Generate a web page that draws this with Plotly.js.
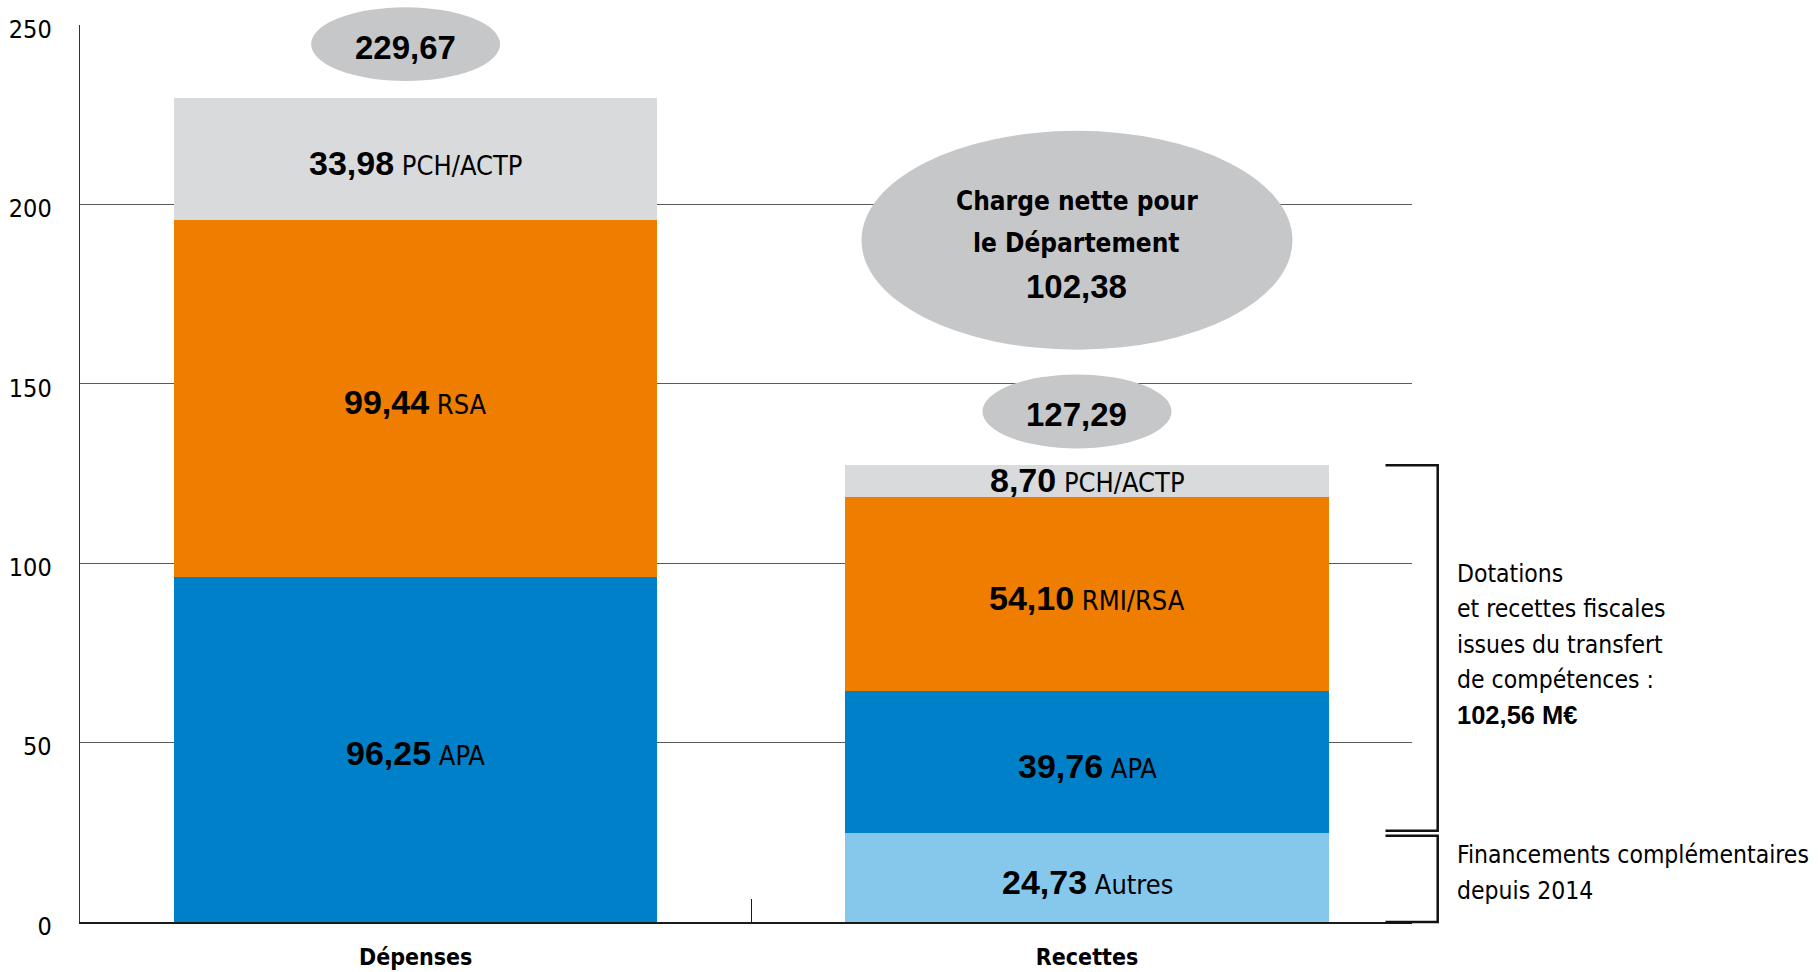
<!DOCTYPE html>
<html><head><meta charset="utf-8">
<script src="https://cdn.plot.ly/plotly-3.0.1.min.js"></script>
<style>html,body{margin:0;padding:0;background:#fff;}</style>
</head><body>
<div id="chart" style="width:1818px;height:972px"></div>
<script>
// ---- data ----
const categories = ['Dépenses', 'Recettes'];
const autres = [0, 24.73];
const apa = [96.25, 39.76];
const rsa = [99.44, 54.10];
const pch = [33.98, 8.70];
const autresLabels = ['Autres', 'Autres'];
const apaLabels = ['APA', 'APA'];
const rsaLabels = ['RSA', 'RMI/RSA'];
const pchLabels = ['PCH/ACTP', 'PCH/ACTP'];
const totals = [229.67, 127.29];
const chargeNette = 102.38;
const dotations = 102.56;
const yTickVals = [0, 50, 100, 150, 200, 250];
const yMax = 250;
const noteDotations = ['Dotations', 'et recettes fiscales', 'issues du transfert', 'de compétences :'];
const noteFinancements = ['Financements complémentaires', 'depuis 2014'];
const chargeLines = ['Charge nette pour', 'le Département'];

// ---- style ----
const NARROW = '"DejaVu Sans Condensed", "Liberation Sans Narrow", sans-serif';
const colors = {autres: '#86C8EC', apa: '#0080C8', rsa: '#EE7D00', pch: '#D9DADC'};
const bubbleColor = '#C6C7C9';
const fmt = v => v.toFixed(2).replace('.', ',');
const num = (v, size) => `<span style="font-family:Liberation Sans, Arial, sans-serif;font-size:${size}px;font-weight:bold">${fmt(v)}</span>`;
const xr = [-0.5, 1.484];
const xp = x => (x - xr[0]) / (xr[1] - xr[0]);   // category index -> paper
const yp = v => v / yMax;                         // value -> paper

const series = [
  {vals: autres, labels: autresLabels, color: colors.autres},
  {vals: apa, labels: apaLabels, color: colors.apa},
  {vals: rsa, labels: rsaLabels, color: colors.rsa},
  {vals: pch, labels: pchLabels, color: colors.pch}
];

const traces = series.map(s => ({
  type: 'bar', x: categories, y: s.vals, width: 0.72,
  marker: {color: s.color, line: {width: 0}},
  hoverinfo: 'skip'
}));

const annotations = [];
const shapes = [];
const base = [0, 0];
series.forEach(s => {
  s.vals.forEach((v, i) => {
    if (v > 0) {
      annotations.push({
        x: i, y: base[i] + v / 2, xref: 'x', yref: 'y', showarrow: false,
        yshift: v < 15 ? 1 : -4,
        text: num(v, 34) + ' ' + s.labels[i],
        font: {family: NARROW, size: 27, color: '#000'}
      });
    }
    base[i] += v;
  });
});

// total bubbles
const bubbleOffset = 15, bubbleW = 0.2815, bubbleH = 20.6, dx = -0.015;
totals.forEach((t, i) => {
  const cy = t + bubbleOffset;
  shapes.push({type: 'circle', xref: 'paper', yref: 'paper', layer: 'above',
    x0: xp(i + dx - bubbleW / 2), x1: xp(i + dx + bubbleW / 2),
    y0: yp(cy - bubbleH / 2), y1: yp(cy + bubbleH / 2),
    fillcolor: bubbleColor, line: {width: 0}});
  annotations.push({x: i + dx, y: cy, xref: 'x', yref: 'y', showarrow: false, yshift: -3,
    text: num(t, 33), font: {family: NARROW, size: 27, color: '#000'}});
});

// net charge bubble
const bigCy = 190, bigW = 0.642, bigH = 61;
shapes.push({type: 'circle', xref: 'paper', yref: 'paper', layer: 'above',
  x0: xp(1 + dx - bigW / 2), x1: xp(1 + dx + bigW / 2), y0: yp(bigCy - bigH / 2), y1: yp(bigCy + bigH / 2),
  fillcolor: bubbleColor, line: {width: 0}});
const bigLines = chargeLines.map(l => '<b>' + l + '</b>').concat([num(chargeNette, 33)]);
const bigShifts = [39, -3, -46];
bigLines.forEach((t, k) => annotations.push({x: 1 + dx, y: bigCy, xref: 'x', yref: 'y', showarrow: false,
  yshift: bigShifts[k], text: t, font: {family: NARROW, size: 26, color: '#000'}}));

// brackets
const bxL = 0.9801, bxR = 1.0193, gap = 0.7;
const bracket = (yb, yt) => ({type: 'path', xref: 'paper', yref: 'paper', layer: 'above',
  path: `M ${bxL},${yp(yt)} L ${bxR},${yp(yt)} L ${bxR},${yp(yb)} L ${bxL},${yp(yb)}`,
  line: {color: '#111', width: 2.5}});
shapes.push(bracket(autres[1] + gap, totals[1]));
shapes.push(bracket(0, autres[1] - gap));

// side notes, one annotation per line
const noteX = 1.032, lineStep = 35.4;
const dotLines = noteDotations.concat([`<span style="font-family:Liberation Sans, Arial, sans-serif;font-size:25.5px;font-weight:bold">${fmt(dotations)} M€</span>`]);
dotLines.forEach((t, k) => annotations.push({x: noteX, xref: 'paper', y: (autres[1] + totals[1]) / 2, yref: 'y',
  xanchor: 'left', yanchor: 'middle', align: 'left', showarrow: false,
  yshift: (2 - k) * lineStep + 5, text: t, font: {family: NARROW, size: 24.5, color: '#000'}}));
noteFinancements.forEach((t, k) => annotations.push({x: noteX, xref: 'paper', y: autres[1] / 2, yref: 'y',
  xanchor: 'left', yanchor: 'middle', align: 'left', showarrow: false,
  yshift: (0.5 - k) * lineStep + 5, text: t, font: {family: NARROW, size: 24.5, color: '#000'}}));

const layout = {
  width: 1818, height: 972,
  margin: {l: 80, r: 406, t: 24.5, b: 50, pad: 0},
  paper_bgcolor: '#fff', plot_bgcolor: '#fff',
  barmode: 'stack', showlegend: false, hovermode: false,
  font: {family: NARROW, color: '#000'},
  xaxis: {
    type: 'category', range: xr, fixedrange: true,
    showline: true, linecolor: '#1a1a1a', linewidth: 2,
    ticks: 'inside', tickson: 'boundaries', ticklen: 23, tickcolor: '#1a1a1a', tickwidth: 1.3,
    tickfont: {family: NARROW, size: 23, weight: 700, color: '#000'},
    ticklabelstandoff: 13, showgrid: false, zeroline: false
  },
  yaxis: {
    range: [0, yMax], fixedrange: true, tickvals: yTickVals,
    showline: true, linecolor: '#333', linewidth: 1.3,
    showgrid: true, gridcolor: '#5a5a5a', gridwidth: 1.3, zeroline: false,
    ticks: '', ticklabelstandoff: 22, ticklabelshift: 4,
    tickfont: {family: NARROW, size: 25, color: '#000'}
  },
  shapes: shapes,
  annotations: annotations
};

Plotly.newPlot('chart', traces, layout, {displayModeBar: false, staticPlot: true});
</script>
</body></html>
